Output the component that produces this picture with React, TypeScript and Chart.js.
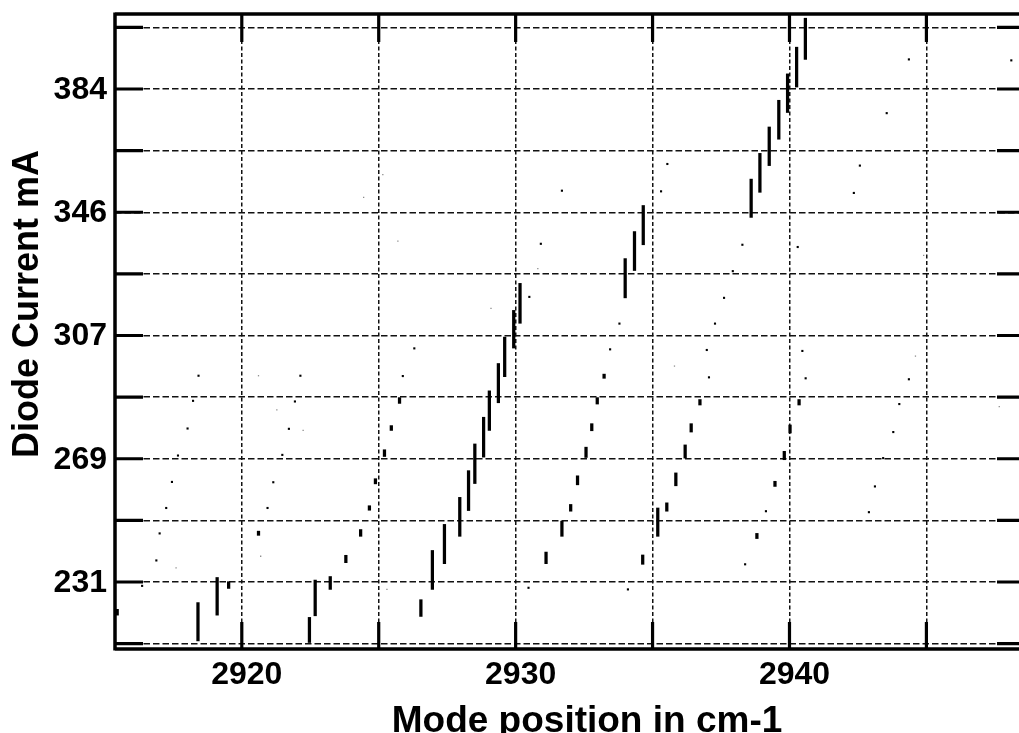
import { useEffect, useRef } from 'react';
import Chart from 'chart.js/auto';

// vertical tuning segments: mode position (cm-1) and the current range (mA)
const segX = [
  2915.45, 2918.4, 2919.1, 2919.52,
  2920.61, 2922.47, 2922.68, 2923.23, 2923.8, 2924.34, 2924.66, 2924.88,
  2925.21, 2925.46, 2925.76, 2926.54, 2926.96, 2927.4, 2927.96, 2928.28, 2928.51, 2928.83, 2929.04, 2929.37, 2929.6, 2929.93, 2930.16,
  2931.11, 2931.69, 2932.01, 2932.26, 2932.57, 2932.78, 2932.98, 2933.23, 2934.0, 2934.34, 2934.64, 2934.66,
  2935.19, 2935.52, 2935.85, 2936.19, 2936.41, 2936.73, 2938.6, 2938.81, 2938.92, 2939.26, 2939.47, 2939.61, 2939.81, 2939.93, 2940.02, 2940.26, 2940.35, 2940.58,
];
const segLow = [
  220.5, 212.5, 220.5, 228.8,
  245.3, 212.0, 220.3, 228.5, 236.8, 245.0, 253.1, 261.3,
  269.8, 277.9, 286.3, 220.1, 228.5, 236.5, 245.0, 253.0, 261.4, 269.6, 277.9, 286.5, 294.6, 303.5, 311.2,
  236.5, 245.0, 252.8, 261.0, 269.5, 277.8, 286.1, 294.1, 319.1, 327.6, 236.3, 335.6,
  245.0, 252.8, 260.7, 269.3, 277.4, 285.8, 344.1, 244.3, 351.9, 360.2, 260.5, 368.4, 268.8, 376.7, 277.1, 384.6, 285.8, 393.2,
];
const segHigh = [
  222.3, 224.4, 232.2, 230.9,
  246.6, 219.8, 231.4, 232.5, 239.1, 247.1, 254.5, 262.9,
  271.9, 279.4, 288.1, 225.3, 240.6, 248.7, 257.1, 265.4, 273.7, 282.0, 290.2, 298.7, 306.9, 315.2, 323.6,
  240.1, 249.7, 254.9, 263.8, 272.7, 280.0, 288.1, 295.4, 331.3, 339.7, 239.2, 347.8,
  253.8, 255.4, 264.7, 273.4, 280.0, 287.5, 356.0, 245.9, 364.0, 372.2, 262.1, 380.5, 271.4, 388.7, 279.6, 397.0, 287.5, 406.0,
];

// single mode points
const dotX = [
  2916.36, 2916.88, 2917.0, 2917.24, 2917.45, 2917.67, 2918.02, 2918.22, 2918.42,
  2920.94, 2921.15, 2921.48, 2921.72, 2921.94, 2922.14, 2925.88, 2926.3,
  2930.47, 2930.5, 2930.92, 2931.69, 2933.45, 2933.79, 2934.1, 2935.31, 2935.54,
  2936.98, 2937.06, 2937.28, 2937.61, 2937.93, 2938.28, 2938.38, 2939.14, 2940.3, 2940.47, 2940.59,
  2942.35, 2942.57, 2942.9, 2943.12, 2943.42, 2943.55, 2943.79, 2944.01, 2944.36, 2944.36, 2948.1,
];
const dotY = [
  229.6, 237.5, 245.9, 253.8, 261.9, 270.1, 278.5, 287.1, 294.9,
  253.8, 261.8, 270.3, 278.4, 286.9, 294.9, 294.8, 303.4,
  229.0, 319.4, 335.9, 352.4, 303.1, 311.1, 228.5, 352.2, 360.7,
  302.9, 294.4, 311.1, 319.1, 327.4, 335.6, 236.3, 252.8, 334.9, 302.6, 294.1,
  351.7, 360.2, 252.5, 260.5, 269.3, 376.5, 277.4, 286.1, 293.8, 393.2, 392.9,
];

// weak points, barely visible
const faintX = [2917.6, 2920.61, 2920.69, 2921.28, 2922.24, 2924.45, 2925.15, 2925.3, 2925.7, 2929.1, 2930.81, 2935.8, 2944.6, 2944.9, 2947.66];
const faintY = [235.2, 294.9, 238.8, 284.3, 277.9, 350.3, 357.4, 228.5, 336.7, 315.8, 328.2, 297.9, 301.0, 332.3, 285.3];

const xGrid = [2920, 2925, 2930, 2935, 2940, 2945];
const xTickLabels = [2920, 2930, 2940];
const yMajor = [230.8, 269.1, 307.4, 345.7, 384.0];
const yMajorLabels = ['231', '269', '307', '346', '384'];
const yMinor = [211.65, 249.95, 288.25, 326.55, 364.85, 403.15];

const xTitle = 'Mode position in cm-1';
const yTitle = 'Diode Current mA';

const FONT = '"Liberation Sans", Arial, Helvetica, sans-serif';

const framePlugin = {
  id: 'frame',
  afterDraw(chart: any) {
    const { ctx, chartArea: a, scales } = chart;
    ctx.save();
    ctx.strokeStyle = '#000';
    ctx.lineCap = 'butt';

    // axis frame (right side falls outside the picture)
    ctx.lineWidth = 3.5;
    ctx.beginPath();
    ctx.moveTo(a.left, a.top);
    ctx.lineTo(chart.width, a.top);
    ctx.moveTo(a.left, a.top - 1.5);
    ctx.lineTo(a.left, a.bottom + 1.5);
    ctx.moveTo(a.left, a.bottom);
    ctx.lineTo(chart.width, a.bottom);
    ctx.moveTo(a.right, a.top);
    ctx.lineTo(a.right, a.bottom);
    ctx.stroke();

    // inward tick marks
    ctx.lineWidth = 3.2;
    ctx.beginPath();
    for (const v of xGrid) {
      const px = scales.x.getPixelForValue(v);
      ctx.moveTo(px, a.top);
      ctx.lineTo(px, a.top + 28);
      ctx.moveTo(px, a.bottom);
      ctx.lineTo(px, a.bottom - 27);
    }
    for (const v of [...yMinor, ...yMajor]) {
      const py = scales.y.getPixelForValue(v);
      ctx.moveTo(a.left, py);
      ctx.lineTo(a.left + 28, py);
      ctx.moveTo(a.right, py);
      ctx.lineTo(a.right - 28, py);
    }
    ctx.stroke();

    // axis titles
    ctx.fillStyle = '#000';
    ctx.textAlign = 'center';
    ctx.textBaseline = 'alphabetic';
    ctx.font = `bold 37px ${FONT}`;
    ctx.fillText(xTitle, a.left + 472, a.bottom + 83);
    ctx.translate(a.left - 77, a.top + 290);
    ctx.rotate(-Math.PI / 2);
    ctx.font = `bold 36px ${FONT}`;
    ctx.fillText(yTitle, 0, 0);
    ctx.restore();
  },
};

const ModeChart = () => {
  const canvasRef = useRef<HTMLCanvasElement | null>(null);
  const chartRef = useRef<Chart | null>(null);

  useEffect(() => {
    if (!canvasRef.current) return;
    if (chartRef.current) chartRef.current.destroy();

    chartRef.current = new Chart(canvasRef.current, {
      type: 'scatter',
      data: {
        datasets: [
          {
            type: 'bar',
            label: 'segments',
            data: segX.map((x, i) => ({ x, y: [segLow[i], segHigh[i]] })) as any,
            backgroundColor: '#000',
            borderWidth: 0,
            barThickness: 2.6,
            minBarLength: 2,
            grouped: false,
          } as any,
          {
            type: 'scatter',
            label: 'points',
            data: dotX.map((x, i) => ({ x, y: dotY[i] })),
            pointStyle: 'rect',
            pointRadius: 1.5,
            backgroundColor: '#000',
            borderWidth: 0,
          },
          {
            type: 'scatter',
            label: 'faint',
            data: faintX.map((x, i) => ({ x, y: faintY[i] })),
            pointStyle: 'rect',
            pointRadius: 0.9,
            backgroundColor: '#8a8a8a',
            borderWidth: 0,
          },
        ],
      },
      options: {
        animation: false,
        responsive: true,
        maintainAspectRatio: false,
        events: [],
        layout: { padding: { left: 0, top: 14, right: 15, bottom: 0 } },
        plugins: {
          legend: { display: false },
          tooltip: { enabled: false },
        },
        scales: {
          x: {
            type: 'linear',
            min: 2915.37,
            max: 2948.6,
            offset: false,
            afterBuildTicks: (scale: any) => {
              scale.ticks = xGrid.map((value) => ({ value }));
            },
            afterFit: (scale: any) => {
              scale.height = 96;
            },
            grid: {
              offset: false,
              color: '#111',
              lineWidth: 1.5,
              drawTicks: false,
            },
            border: { display: false, dash: [4, 2.5] },
            ticks: {
              autoSkip: false,
              maxRotation: 0,
              minRotation: 0,
              padding: 7,
              labelOffset: 5,
              color: '#000',
              font: { family: FONT, size: 32, weight: 'bold', lineHeight: 1.2 },
              callback: (v: any) => (xTickLabels.includes(Number(v)) ? String(v) : []),
            },
          },
          y: {
            type: 'linear',
            min: 209.98,
            max: 407.31,
            afterBuildTicks: (scale: any) => {
              scale.ticks = [...yMinor, ...yMajor].sort((p, q) => p - q).map((value) => ({ value }));
            },
            afterFit: (scale: any) => {
              scale.width = 115;
            },
            grid: {
              color: '#111',
              lineWidth: 1.5,
              drawTicks: false,
            },
            border: { display: false, dash: [6.5, 3] },
            ticks: {
              autoSkip: false,
              padding: 8,
              labelOffset: 1,
              color: '#000',
              font: { family: FONT, size: 32, weight: 'bold', lineHeight: 1.2 },
              callback: (v: any) => {
                const k = yMajor.indexOf(Number(v));
                return k >= 0 ? yMajorLabels[k] : [];
              },
            },
          },
        },
      },
      plugins: [framePlugin],
    });

    return () => {
      if (chartRef.current) {
        chartRef.current.destroy();
        chartRef.current = null;
      }
    };
  }, []);

  return (
    <div style={{ position: 'fixed', left: 0, top: 0, width: 1019, height: 733, overflow: 'hidden', background: '#fff' }}>
      <div style={{ position: 'relative', width: 1040, height: 745 }}>
        <canvas ref={canvasRef}></canvas>
      </div>
    </div>
  );
};

export default function App() {
  return <ModeChart />;
}
